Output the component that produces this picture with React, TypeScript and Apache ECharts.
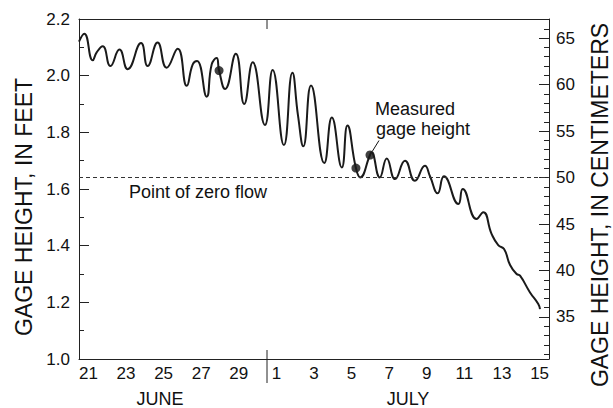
import React, { useEffect, useRef } from 'react';
import * as echarts from 'echarts';

const FONT = '"Liberation Sans", Arial, Helvetica, sans-serif';

// Day labels, June 21 through July 15 (one category per day)
const dayLabels = [
  '21', '22', '23', '24', '25', '26', '27', '28', '29', '30',
  '1', '2', '3', '4', '5', '6', '7', '8', '9', '10', '11', '12', '13', '14', '15',
];

// Continuous stage record: time in days since June 21 00:00, height in feet
const stageTime = [
  0, 0.28, 0.73, 0.94, 1.26, 1.67, 2.15, 2.59, 3.3, 3.65, 4.18, 4.66, 5.25, 5.73, 6.05, 6.28,
  6.79, 7.06, 7.32, 7.45, 7.77, 8.34, 8.79, 9.24, 9.89, 10.3, 10.9, 11.35, 11.65, 11.93, 12.34,
  13.05, 13.45, 13.98, 14.28, 14.73, 14.95, 15.48, 15.55, 16.0, 16.37, 16.81, 17.34, 17.87,
  18.4, 18.67, 19.08, 19.41, 20.18, 20.41, 21.15, 21.5, 21.95, 22.3, 22.61, 22.93, 23.28,
  23.46, 23.99, 24.43, 24.52,
];
const stageFeet = [
  2.12, 2.148, 2.054, 2.082, 2.104, 2.034, 2.092, 2.023, 2.115, 2.034, 2.117, 2.028, 2.095, 1.964, 2.04, 2.052,
  1.926, 2.04, 2.062, 2.018, 1.953, 2.077, 1.9, 2.047, 1.826, 2.02, 1.755, 2.01, 1.859, 1.751, 1.965,
  1.692, 1.852, 1.676, 1.824, 1.674, 1.641, 1.72, 1.73, 1.641, 1.708, 1.635, 1.7, 1.629,
  1.682, 1.645, 1.585, 1.645, 1.547, 1.6, 1.494, 1.518, 1.441, 1.402, 1.388, 1.332, 1.3,
  1.294, 1.235, 1.194, 1.176,
];

// Field measurements of gage height
const measuredTime = [7.45, 14.73, 15.48];
const measuredFeet = [2.018, 1.674, 1.72];

// Point of zero flow, feet
const zeroFlowFeet = 1.64;

// Axis ranges and ticks
const feetMin = 1.0;
const feetMax = 2.2;
const FT_TO_CM = 30.48;
const cmMajorTicks = [35, 40, 45, 50, 55, 60, 65];
const cmMinorTicks = Array.from({ length: 37 }, (_, i) => 31 + i);
const julyFirst = 10; // day offset of the June/July boundary

export default function App() {
  const ref = useRef<HTMLDivElement>(null);

  useEffect(() => {
    const chart = echarts.init(ref.current!, null, { renderer: 'svg' });
    const axisColor = '#222';
    const stage = stageTime.map((t, i) => [t, stageFeet[i]]);
    const measured = measuredTime.map((t, i) => [t, measuredFeet[i]]);

    chart.setOption({
      animation: false,
      backgroundColor: '#fff',
      textStyle: { fontFamily: FONT },
      grid: { left: 79, right: 64, top: 19, bottom: 49 },
      xAxis: [
        {
          type: 'category',
          position: 'bottom',
          data: dayLabels,
          boundaryGap: true,
          axisLine: { lineStyle: { color: axisColor, width: 1 } },
          axisTick: { inside: true, length: 4, interval: 0, alignWithLabel: false, lineStyle: { color: axisColor } },
          axisLabel: { interval: 1, fontSize: 17, color: '#111', margin: 6, fontFamily: FONT },
          splitLine: { show: false },
        },
        {
          type: 'value',
          min: 0,
          max: dayLabels.length,
          show: false,
        },
        {
          type: 'category',
          position: 'top',
          data: dayLabels,
          boundaryGap: true,
          axisLine: { lineStyle: { color: axisColor, width: 1 } },
          axisTick: { inside: true, length: 4, interval: 0, alignWithLabel: false, lineStyle: { color: axisColor } },
          axisLabel: { show: false },
          splitLine: { show: false },
        },
      ],
      yAxis: [
        {
          type: 'value',
          position: 'left',
          min: feetMin,
          max: feetMax,
          interval: 0.2,
          axisLine: { show: true, lineStyle: { color: axisColor, width: 1 } },
          axisTick: { show: true, inside: true, length: 10, lineStyle: { color: axisColor } },
          minorTick: { show: true, splitNumber: 2, length: 5, lineStyle: { color: axisColor } },
          axisLabel: {
            fontSize: 17,
            color: '#111',
            margin: 9,
            fontFamily: FONT,
            formatter: (v: number) => v.toFixed(1),
          },
          splitLine: { show: false },
        },
        {
          type: 'value',
          position: 'right',
          min: feetMin * FT_TO_CM,
          max: feetMax * FT_TO_CM,
          axisLine: { show: true, lineStyle: { color: axisColor, width: 1 } },
          axisTick: { show: true, inside: true, length: 10, customValues: cmMajorTicks, lineStyle: { color: axisColor } },
          axisLabel: {
            fontSize: 17,
            color: '#111',
            margin: 7,
            fontFamily: FONT,
            customValues: cmMajorTicks,
            formatter: (v: number) => String(Math.round(v)),
          },
          splitLine: { show: false },
        },
        {
          type: 'value',
          position: 'right',
          min: feetMin * FT_TO_CM,
          max: feetMax * FT_TO_CM,
          axisLine: { show: false },
          axisTick: { show: true, inside: true, length: 5, customValues: cmMinorTicks, lineStyle: { color: axisColor } },
          axisLabel: { show: false },
          splitLine: { show: false },
        },
      ],
      series: [
        {
          type: 'line',
          xAxisIndex: 1,
          yAxisIndex: 0,
          data: stage,
          smooth: 0.5,
          showSymbol: false,
          lineStyle: { color: '#1a1a1a', width: 2 },
          silent: true,
          markLine: {
            silent: true,
            symbol: ['none', 'none'],
            label: { show: false },
            lineStyle: { type: [4, 3], color: '#333', width: 1 },
            data: [{ yAxis: zeroFlowFeet }],
          },
        },
        {
          type: 'scatter',
          xAxisIndex: 1,
          yAxisIndex: 0,
          data: measured,
          symbol: 'circle',
          symbolSize: 9,
          itemStyle: { color: '#111' },
          silent: true,
        },
      ],
    });

    // Decorations positioned from the chart's own scales
    const bottomSep = chart.convertToPixel({ seriesIndex: 0 }, [julyFirst, feetMin]) as number[];
    const topSep = chart.convertToPixel({ seriesIndex: 0 }, [julyFirst, feetMax]) as number[];
    const p = chart.convertToPixel({ seriesIndex: 1 }, measured[2]) as number[];
    const leaderEnd = [379, 140.5];
    const dx = leaderEnd[0] - p[0];
    const dy = leaderEnd[1] - p[1];
    const len = Math.hypot(dx, dy) || 1;
    const r = 4.5;

    const lineStyle = { stroke: axisColor, lineWidth: 1 };
    const textStyle = (text: string, x: number, y: number, size: number, align = 'left') => ({
      type: 'text',
      x,
      y,
      style: { text, fontSize: size, fontFamily: FONT, fill: '#111', align, verticalAlign: 'middle' },
    });

    chart.setOption({
      graphic: [
        { type: 'line', shape: { x1: bottomSep[0], y1: bottomSep[1] - 9, x2: bottomSep[0], y2: bottomSep[1] + 24 }, style: lineStyle },
        { type: 'line', shape: { x1: topSep[0], y1: topSep[1], x2: topSep[0], y2: topSep[1] + 10 }, style: lineStyle },
        {
          type: 'line',
          shape: { x1: p[0] + (dx / len) * r, y1: p[1] + (dy / len) * r, x2: leaderEnd[0], y2: leaderEnd[1] },
          style: { stroke: '#111', lineWidth: 1 },
        },
        textStyle('JUNE', 160, 399, 18, 'center'),
        textStyle('JULY', 408, 399, 18, 'center'),
        textStyle('Point of zero flow', 129, 191.5, 18),
        textStyle('Measured', 375, 108.5, 18),
        textStyle('gage height', 376, 128.5, 18),
        {
          type: 'text',
          x: 24,
          y: 207,
          rotation: Math.PI / 2,
          style: { text: 'GAGE HEIGHT, IN FEET', fontSize: 23, fontFamily: FONT, fill: '#111', align: 'center', verticalAlign: 'middle' },
        },
        {
          type: 'text',
          x: 600,
          y: 205,
          rotation: Math.PI / 2,
          style: { text: 'GAGE HEIGHT, IN CENTIMETERS', fontSize: 23, fontFamily: FONT, fill: '#111', align: 'center', verticalAlign: 'middle' },
        },
      ],
    });

    return () => chart.dispose();
  }, []);

  return (
    <div
      ref={ref}
      style={{ position: 'fixed', left: 0, top: 0, width: 613, height: 408, background: '#fff' }}
    />
  );
}
